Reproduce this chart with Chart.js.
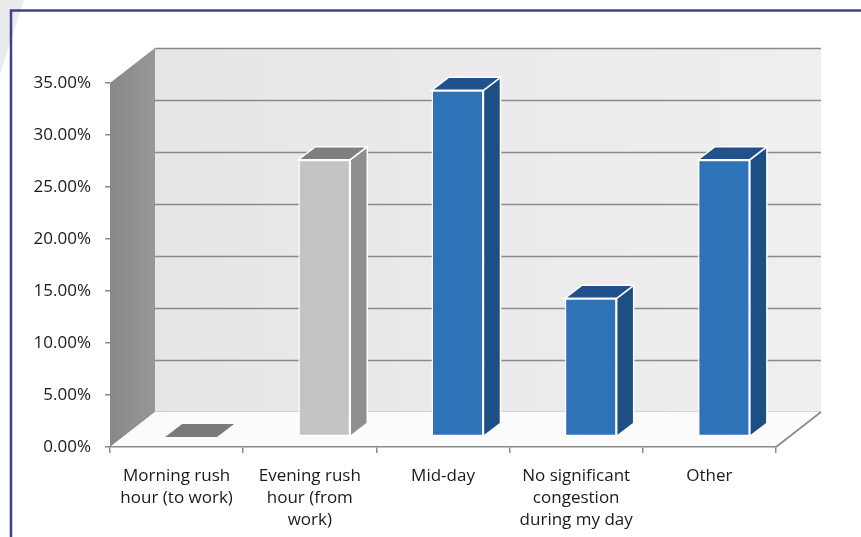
<!DOCTYPE html>
<html>
<head>
<meta charset="utf-8">
<script src="https://cdn.jsdelivr.net/npm/chart.js@4.4.1/dist/chart.umd.min.js"></script>
<style>
  html, body { margin: 0; padding: 0; background: #fff; }
  #wrap { width: 861px; height: 537px; }
</style>
</head>
<body>
<div id="wrap"><canvas id="chart" width="861" height="537"></canvas></div>
<script>
// data
const categories = [
    ['Morning rush', 'hour (to work)'],
    ['Evening rush', 'hour (from', 'work)'],
    ['Mid-day'],
    ['No significant', 'congestion', 'during my day'],
    ['Other']
];
const shares = [0, 0.2667, 0.3333, 0.1333, 0.2667];
const yTicks = [0, 0.05, 0.10, 0.15, 0.20, 0.25, 0.30, 0.35];

// bar face colours (front / side / top)
const frontColors = ['#7c7c7c', '#c4c4c4', '#2e72b7', '#2e72b7', '#2e72b7'];
const sideColors = ['#6e6e6e', '#8f8f8f', '#1d4e84', '#1d4e84', '#1d4e84'];
const topColors = ['#7a7a7a', '#7f7f7f', '#21508a', '#21508a', '#21508a'];

// 3d geometry
const ROOM_DX = 45, ROOM_DY = -35;     // depth of the whole plot box
const BAR_SHIFT_X = 14.5, BAR_SHIFT_Y = -10; // bars sit a bit back in the box
const BAR_DX = 17, BAR_DY = -13;       // depth of each bar

function poly(ctx, pts, fill, stroke, lw) {
    ctx.beginPath();
    ctx.moveTo(pts[0][0], pts[0][1]);
    for (let i = 1; i < pts.length; i++) ctx.lineTo(pts[i][0], pts[i][1]);
    ctx.closePath();
    if (fill) { ctx.fillStyle = fill; ctx.fill(); }
    if (stroke) { ctx.strokeStyle = stroke; ctx.lineWidth = lw || 1; ctx.stroke(); }
}

const roomPlugin = {
    id: 'room',
    beforeDraw(chart) {
        const ctx = chart.ctx;
        const a = chart.chartArea;
        const y = chart.scales.y;
        ctx.save();
        ctx.fillStyle = '#fff';
        ctx.fillRect(0, 0, chart.width, chart.height);

        // faint shape in the corner
        poly(ctx, [[0, 0], [24, 0], [0, 74]], '#ebebeb');

        // frame
        ctx.strokeStyle = '#3d4196';
        ctx.lineWidth = 2.5;
        ctx.beginPath();
        ctx.moveTo(chart.width + 5, 10.5);
        ctx.lineTo(11, 10.5);
        ctx.lineTo(11, chart.height + 5);
        ctx.stroke();

        const bl = a.left + ROOM_DX, br = a.right + ROOM_DX;
        const bt = a.top + ROOM_DY, bb = a.bottom + ROOM_DY;

        // back wall
        const g = ctx.createLinearGradient(bl, 0, br, 0);
        g.addColorStop(0, '#e6e6e6');
        g.addColorStop(1, '#efefef');
        ctx.fillStyle = g;
        ctx.fillRect(bl, bt, br - bl, bb - bt);

        // gridlines on back wall
        ctx.strokeStyle = '#8a8a8a';
        ctx.lineWidth = 1.6;
        yTicks.forEach(v => {
            const py = Math.round(y.getPixelForValue(v) + ROOM_DY) + 0.5;
            ctx.beginPath();
            ctx.moveTo(bl, py);
            ctx.lineTo(br, py);
            ctx.stroke();
        });

        // left wall
        const lg = ctx.createLinearGradient(a.left, 0, bl, 0);
        lg.addColorStop(0, '#888888');
        lg.addColorStop(1, '#979797');
        poly(ctx, [[a.left, a.top], [bl, bt], [bl, bb], [a.left, a.bottom]], lg);

        // floor
        poly(ctx, [[a.left, a.bottom], [a.right, a.bottom], [br, bb], [bl, bb]], '#fbfbfb');
        ctx.strokeStyle = '#8a8a8a';
        ctx.lineWidth = 1.6;
        ctx.beginPath();
        ctx.moveTo(a.right, a.bottom);
        ctx.lineTo(br, bb);
        ctx.stroke();
        ctx.restore();
    },
    beforeDatasetsDraw(chart) {
        chart.ctx.save();
        chart.ctx.translate(BAR_SHIFT_X, BAR_SHIFT_Y);
    },
    afterDatasetsDraw(chart) {
        const ctx = chart.ctx;
        const meta = chart.getDatasetMeta(0);
        meta.data.forEach((bar, i) => {
            const p = bar.getProps(['x', 'y', 'base', 'width'], true);
            const l = p.x - p.width / 2, r = p.x + p.width / 2;
            const edge = shares[i] > 0 ? '#ffffff' : null;
            if (shares[i] > 0) {
                poly(ctx, [[r, p.y], [r + BAR_DX, p.y + BAR_DY], [r + BAR_DX, p.base + BAR_DY], [r, p.base]],
                    sideColors[i], edge, 1.5);
            }
            poly(ctx, [[l, p.y], [r, p.y], [r + BAR_DX, p.y + BAR_DY], [l + BAR_DX, p.y + BAR_DY]],
                topColors[i], edge, 1.5);
        });
        ctx.restore();
    }
};

new Chart(document.getElementById('chart'), {
    type: 'bar',
    data: {
        labels: categories,
        datasets: [{
            data: shares,
            backgroundColor: frontColors,
            borderColor: shares.map(v => v > 0 ? '#ffffff' : 'rgba(0,0,0,0)'),
            borderWidth: 1.5,
            borderSkipped: false,
            categoryPercentage: 1,
            barPercentage: 0.39
        }]
    },
    options: {
        responsive: false,
        animation: false,
        layout: { padding: { left: 0, top: 83, right: 85, bottom: 0 } },
        plugins: { legend: { display: false }, tooltip: { enabled: false } },
        scales: {
            x: {
                afterFit: s => { s.height = 90; },
                grid: { drawOnChartArea: false, offset: true, tickLength: 6, color: '#8a8a8a', lineWidth: 1.5 },
                border: { display: true, color: '#8a8a8a', width: 1.6 },
                ticks: {
                    color: '#1a1a1a',
                    maxRotation: 0,
                    autoSkip: false,
                    padding: 12,
                    font: { family: 'Open Sans', size: 17, lineHeight: 1.3 }
                }
            },
            y: {
                min: 0,
                max: 0.35,
                afterFit: s => { s.width = 110; },
                afterBuildTicks: s => { s.ticks = yTicks.map(v => ({ value: v })); },
                grid: { drawOnChartArea: false, tickLength: 5, color: '#8a8a8a', lineWidth: 1.5 },
                border: { display: false },
                ticks: {
                    color: '#1a1a1a',
                    padding: 14,
                    font: { family: 'Open Sans', size: 17 },
                    callback: v => (v * 100).toFixed(2) + '%'
                }
            }
        }
    },
    plugins: [roomPlugin]
});
</script>
</body>
</html>
